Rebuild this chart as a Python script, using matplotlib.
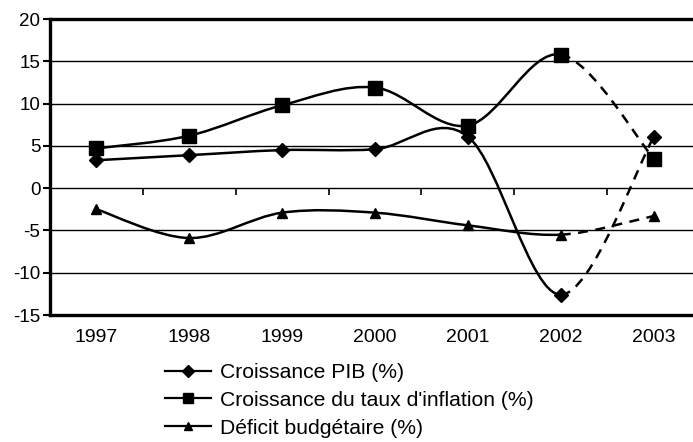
import numpy as np
import matplotlib
matplotlib.use("Agg")
import matplotlib.pyplot as plt
from matplotlib.path import Path
from matplotlib.patches import PathPatch
from matplotlib.lines import Line2D

plt.rcParams['font.family'] = ['Liberation Sans', 'DejaVu Sans']

years = ['1997', '1998', '1999', '2000', '2001', '2002', '2003']
pib = [3.3, 3.9, 4.5, 4.6, 6.1, -12.6, 6.0]
inflation = [4.7, 6.2, 9.8, 11.9, 7.4, 15.8, 3.5]
deficit = [-2.5, -5.9, -2.9, -2.9, -4.4, -5.5, -3.3]
labels = ['Croissance PIB (%)', "Croissance du taux d'inflation (%)", 'Déficit budgétaire (%)']
markers = ['D', 's', '^']
msizes = [7, 9.5, 6.5]
yticks = [-15, -10, -5, 0, 5, 10, 15, 20]

W, H = 693, 442
fig = plt.figure(figsize=(W / 100, H / 100), dpi=100)
ax = fig.add_axes([50 / W, 1 - 315 / H, 650 / W, 296 / H])

x = np.arange(len(years), dtype=float)


def smooth_path(xs, ys, i0, i1):
    """Excel-like smoothed line (Catmull-Rom Bezier) from index i0 to i1."""
    n = len(xs)
    P = np.column_stack([xs, ys])
    verts = [P[i0]]
    codes = [Path.MOVETO]
    for i in range(i0, i1):
        pm = P[max(i - 1, 0)]
        p0 = P[i]
        p1 = P[i + 1]
        p2 = P[min(i + 2, n - 1)]
        c1 = p0 + (p1 - pm) / 6.0
        c2 = p1 - (p2 - p0) / 6.0
        verts += [c1, c2, p1]
        codes += [Path.CURVE4] * 3
    return Path(verts, codes)


lw = 1.8
for ys, m, ms in zip([pib, inflation, deficit], markers, msizes):
    ys = np.asarray(ys, dtype=float)
    solid = smooth_path(x, ys, 0, len(x) - 2)
    dashed = smooth_path(x, ys, len(x) - 2, len(x) - 1)
    ax.add_patch(PathPatch(solid, facecolor='none', edgecolor='black', lw=lw, zorder=3))
    ax.add_patch(PathPatch(dashed, facecolor='none', edgecolor='black', lw=lw,
                           linestyle=(0, (4, 3)), zorder=3))
    ax.plot(x, ys, linestyle='none', marker=m, markersize=ms, color='black', zorder=4)

ax.set_xlim(-0.5, len(years) - 0.5)
ax.set_ylim(-15, 20)
ax.set_yticks(yticks)
ax.set_yticklabels([str(v) for v in yticks])
ax.set_xticks(x)
ax.set_xticklabels(years)
ax.tick_params(axis='x', length=0, pad=10, labelsize=14)
ax.tick_params(axis='y', length=5, width=1.5, direction='out', pad=2, labelsize=13.5)

for v in yticks[1:-1]:
    ax.axhline(v, color='black', lw=1.0, zorder=1)

for s in ['left', 'top', 'bottom']:
    ax.spines[s].set_linewidth(2.4)
ax.spines['right'].set_visible(False)

# category tick marks on the zero line
sec = ax.secondary_xaxis((0 - (-15)) / 35.0)
sec.set_xticks(x[:-1] + 0.5)
sec.set_xticklabels([])
sec.tick_params(axis='x', length=5, width=1.2, direction='out')
sec.spines['bottom'].set_visible(False)
sec.spines['top'].set_visible(False)

handles = [Line2D([], [], color='black', lw=1.6, marker=m, markersize=ms)
           for m, ms in zip(markers, [6.5, 7, 5.5])]
fig.legend(handles, labels, loc='upper left', bbox_to_anchor=(165 / W, 1 - 363 / H),
           frameon=False, fontsize=15.2, handlelength=2.2, handletextpad=0.4,
           labelspacing=0.42, borderpad=0, borderaxespad=0)

fig.savefig('out.png', dpi=100)
